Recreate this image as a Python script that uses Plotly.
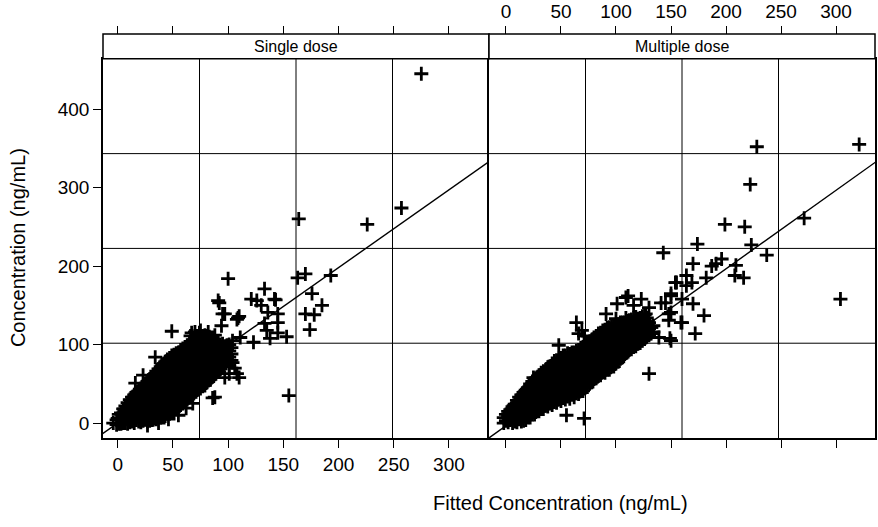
import plotly.graph_objects as go

# ---------------- data ----------------
panels = ["Single dose", "Multiple dose"]
x_ticks = [0, 50, 100, 150, 200, 250, 300]
y_ticks = [0, 100, 200, 300, 400]

# Single dose: dense core, listed per fitted-value column
single_core_x = [-1, 3, 7, 11, 15, 19, 23, 27, 31, 35, 39, 43, 47, 51, 55, 59, 63, 67, 71, 75,
                 79, 83, 87, 91, 95, 99, 103,
                 1, 5, 9, 13, 17, 21, 25, 29, 33, 37, 41, 45, 49, 53, 57, 61, 65, 69, 73, 77,
                 81, 85, 89, 93, 97, 101]
single_core_y = [
    [-2, 4], [-1, 6, 13], [0, 8, 16, 22], [1, 9, 17, 25, 30], [0, 6, 14, 22, 30, 36],
    [2, 10, 18, 26, 34, 41], [3, 8, 16, 24, 32, 40, 47], [2, 12, 20, 28, 36, 44, 53],
    [4, 9, 17, 25, 33, 41, 49, 58], [5, 13, 21, 29, 37, 45, 53, 61, 66],
    [7, 17, 25, 33, 41, 49, 57, 65, 72], [9, 14, 22, 30, 38, 46, 54, 62, 70, 78],
    [12, 19, 27, 35, 43, 51, 59, 67, 75, 83], [15, 23, 31, 39, 47, 55, 63, 71, 79, 87],
    [20, 27, 35, 43, 51, 59, 67, 75, 83, 90], [25, 32, 40, 48, 56, 64, 72, 80, 88, 95],
    [30, 37, 45, 53, 61, 69, 77, 85, 93, 99], [35, 42, 50, 58, 66, 74, 82, 90, 98, 103],
    [40, 47, 55, 63, 71, 79, 87, 95, 103, 107], [44, 52, 60, 68, 76, 84, 92, 100, 108],
    [48, 57, 65, 73, 81, 89, 97, 105, 112], [55, 62, 70, 78, 86, 94, 102, 110],
    [60, 68, 76, 84, 92, 100, 106], [66, 73, 81, 89, 97, 104], [72, 80, 88, 96, 101],
    [79, 86, 94, 99], [88, 96],
    [-1, 6, 11], [0, 4, 12, 18], [-1, 5, 13, 20, 26], [2, 10, 18, 26, 33],
    [4, 12, 20, 28, 36, 39], [1, 6, 14, 22, 30, 38, 44], [5, 12, 20, 28, 36, 44, 50],
    [3, 8, 16, 24, 32, 40, 48, 56], [6, 13, 21, 29, 37, 45, 53, 62],
    [8, 17, 25, 33, 41, 49, 57, 64, 69], [10, 20, 29, 37, 45, 53, 61, 69, 75],
    [12, 18, 26, 34, 42, 50, 58, 66, 74, 81], [14, 23, 31, 39, 47, 55, 63, 71, 79, 86],
    [18, 27, 35, 43, 51, 59, 67, 75, 83, 89], [23, 31, 39, 47, 55, 63, 71, 79, 87, 93],
    [28, 36, 44, 52, 60, 68, 76, 84, 92, 97], [33, 41, 49, 57, 65, 73, 81, 89, 97, 101],
    [38, 46, 54, 62, 70, 78, 86, 94, 102, 106], [43, 51, 59, 67, 75, 83, 91, 99, 106, 110],
    [47, 56, 64, 72, 80, 88, 96, 104, 111], [52, 61, 69, 77, 85, 93, 101, 109],
    [58, 66, 74, 82, 90, 98, 106], [63, 72, 80, 88, 96, 103], [69, 77, 85, 93, 100],
    [76, 84, 92, 98], [84, 92, 100],
]
single_extra_x = [275, 257, 164, 226, 100, 133, 121, 126, 130, 143, 92, 95, 110, 108, 94, 136,
                  145, 145, 133, 135, 145, 153, 138, 123, 111, 163, 170, 193, 176, 170, 178, 185,
                  174, 155, 97, 108, 86, 103, 101, 49, 70, 34, 23, 62, 27, 37, 46, 55, 0, -4, 88,
                  106, 91, 97, 109, 142, 16, 104, 75, 82, 66, 88, 90, 104, 101, 110, 68, 67, 74]
single_extra_y = [445, 274, 260, 253, 184, 171, 158, 156, 150, 157, 153, 139, 136, 132, 124, 141,
                  139, 128, 127, 118, 115, 110, 108, 103, 109, 185, 190, 188, 165, 139, 138, 150,
                  119, 35, 58, 63, 32, 80, 73, 117, 116, 84, 61, 19, -3, 0, 5, 10, 6, 0, 33,
                  70, 156, 139, 134, 158, 51, 105, 118, 116, 111, 112, 80, 77, 63, 58, 25, 115, 115]

# Multiple dose
multi_core_x = [-2, 2, 6, 10, 14, 18, 22, 26, 30, 34, 38, 42, 46, 50, 54, 58, 62, 66, 70, 74,
                78, 82, 86, 90, 94, 98, 102, 106, 110, 114, 118, 122, 126, 130, 134,
                0, 4, 8, 12, 16, 20, 24, 28, 32, 36, 40, 44, 48, 52, 56, 60, 64, 68, 72, 76,
                80, 84, 88, 92, 96, 100, 104, 108, 112, 116, 120, 124, 128, 132]
multi_core_y = [
    [0, 7], [1, 9, 15], [0, 5, 13, 21], [1, 9, 17, 25, 29], [2, 6, 14, 22, 30, 36],
    [4, 11, 19, 27, 35, 42], [7, 15, 23, 31, 39, 47, 50], [11, 19, 27, 35, 43, 51, 55],
    [15, 23, 31, 39, 47, 55, 61], [18, 26, 34, 42, 50, 58, 66], [21, 29, 37, 45, 53, 61, 69, 71],
    [23, 31, 39, 47, 55, 63, 71, 76], [26, 34, 42, 50, 58, 66, 74, 80],
    [28, 36, 44, 52, 60, 68, 76, 83], [30, 38, 46, 54, 62, 70, 78, 86],
    [31, 40, 48, 56, 64, 72, 80, 88], [33, 42, 50, 58, 66, 74, 82, 90],
    [37, 45, 53, 61, 69, 77, 85, 93], [41, 49, 57, 65, 73, 81, 89, 97],
    [46, 54, 62, 70, 78, 86, 94, 101], [52, 59, 67, 75, 83, 91, 99, 106],
    [57, 64, 72, 80, 88, 96, 104, 111], [61, 69, 77, 85, 93, 101, 109, 115],
    [64, 72, 80, 88, 96, 104, 112, 119], [68, 76, 84, 92, 100, 108, 116, 122],
    [72, 80, 88, 96, 104, 112, 120, 125], [78, 86, 94, 102, 110, 118, 126],
    [84, 92, 100, 108, 116, 124, 128], [90, 98, 106, 114, 122, 130],
    [94, 102, 110, 118, 126, 132], [98, 106, 114, 122, 130, 135], [102, 110, 118, 126, 134],
    [107, 115, 123, 131, 138], [112, 120, 128], [116, 124],
    [3, 11], [4, 12, 17], [2, 9, 17, 24], [5, 13, 21, 28, 33], [3, 10, 18, 26, 34, 39],
    [7, 15, 23, 31, 39, 45], [11, 19, 27, 35, 43, 51, 53], [15, 23, 31, 39, 47, 55, 58],
    [18, 27, 35, 43, 51, 59, 64], [22, 30, 38, 46, 54, 62, 68], [25, 33, 41, 49, 57, 65, 72],
    [27, 35, 43, 51, 59, 67, 75, 79], [30, 38, 46, 54, 62, 70, 78, 82],
    [32, 40, 48, 56, 64, 72, 80, 86], [34, 42, 50, 58, 66, 74, 82, 89],
    [36, 44, 52, 60, 68, 76, 84, 90], [38, 46, 54, 62, 70, 78, 86, 92],
    [41, 49, 57, 65, 73, 81, 89, 96], [45, 53, 61, 69, 77, 85, 93, 100],
    [50, 58, 66, 74, 82, 90, 98, 104], [56, 63, 71, 79, 87, 95, 103, 109],
    [60, 68, 76, 84, 92, 100, 108, 114], [65, 73, 81, 89, 97, 105, 113, 118],
    [68, 76, 84, 92, 100, 108, 116, 121], [72, 80, 88, 96, 104, 112, 120, 124],
    [76, 84, 92, 100, 108, 116, 124], [82, 90, 98, 106, 114, 122, 128],
    [88, 96, 104, 112, 120, 128], [93, 101, 109, 117, 125, 131], [97, 105, 113, 121, 129, 134],
    [101, 109, 117, 125, 133], [105, 113, 121, 129, 136], [110, 118, 126, 134], [114, 122],
]
multi_extra_x = [228, 321, 222, 199, 217, 271, 223, 237, 304, 174, 143, 170, 187, 191, 196, 209,
                 208, 216, 182, 164, 169, 155, 164, 150, 145, 160, 170, 180, 172, 160, 148, 150,
                 149, 130, 55, 71, 111, 123, 101, 116, 64, 66, 91, 100, 109, 127, 132, 139, 48,
                 25, 69, 71, 109, 130, 141, 150, 148, 159, 150, 154]
multi_extra_y = [352, 355, 304, 253, 250, 261, 227, 214, 158, 228, 217, 203, 200, 203, 209, 201,
                 188, 185, 185, 188, 179, 179, 175, 165, 153, 158, 152, 137, 114, 128, 131, 141,
                 108, 63, 10, 6, 162, 158, 152, 150, 128, 114, 139, 133, 134, 139, 122, 109, 99,
                 58, 118, 111, 160, 147, 153, 162, 139, 128, 105, 179]

# Fitted (regression) lines: slope, intercept
fit_single = (0.99, 0.0)
fit_multi = (1.0, -3.5)
fit_x_span = [-30, 350]


def flatten(cols_x, cols_y, extra_x, extra_y):
    xs, ys = [], []
    for cx, cy in zip(cols_x, cols_y):
        for v in cy:
            xs.append(cx)
            ys.append(v)
    return xs + extra_x, ys + extra_y


sx, sy = flatten(single_core_x, single_core_y, single_extra_x, single_extra_y)
mx, my = flatten(multi_core_x, multi_core_y, multi_extra_x, multi_extra_y)

# ---------------- figure ----------------
FONT = "Liberation Sans, Arial, Helvetica, sans-serif"
Y_TOP = 0.9115      # top of plotting panels (paper)
STRIP_TOP = 0.9713  # top of strip (paper)

marker = dict(symbol="cross-thin", size=10, color="black",
              line=dict(color="black", width=2.8))

fig = go.Figure()
fig.add_trace(go.Scatter(x=sx, y=sy, mode="markers", marker=marker,
                         xaxis="x", yaxis="y", showlegend=False, hoverinfo="skip"))
fig.add_trace(go.Scatter(x=mx, y=my, mode="markers", marker=marker,
                         xaxis="x2", yaxis="y2", showlegend=False, hoverinfo="skip"))
for (slope, icpt), xa, ya in [(fit_single, "x", "y"), (fit_multi, "x2", "y2")]:
    fig.add_trace(go.Scatter(x=fit_x_span, y=[slope * v + icpt for v in fit_x_span],
                             mode="lines", line=dict(color="black", width=1.4),
                             xaxis=xa, yaxis=ya, showlegend=False, hoverinfo="skip"))
# invisible anchors so the top axes are drawn
for xa, ya in [("x3", "y"), ("x4", "y2")]:
    fig.add_trace(go.Scatter(x=[0], y=[-1000], mode="markers", marker=dict(opacity=0),
                             xaxis=xa, yaxis=ya, showlegend=False, hoverinfo="skip"))

x_rng_single = [-13.3, 336.3]
x_rng_multi = [-15.4, 335.4]
y_rng = [-19, 464]

common_x = dict(tickvals=x_ticks, ticks="outside", ticklen=8, tickwidth=1.3, tickcolor="black",
                showgrid=False, zeroline=False, showline=True, linecolor="black", linewidth=1.5,
                mirror=True, tickfont=dict(family=FONT, size=19, color="black"))

fig.update_layout(
    width=878, height=527,
    margin=dict(l=103, r=1, t=20, b=89),
    paper_bgcolor="white", plot_bgcolor="white",
    xaxis=dict(domain=[0, 0.5], range=x_rng_single, anchor="y", **common_x),
    xaxis2=dict(domain=[0.5, 1], range=x_rng_multi, anchor="y2", showticklabels=False, **common_x),
    xaxis3=dict(domain=[0, 0.5], range=x_rng_single, overlaying="x", side="top", anchor="free",
                position=STRIP_TOP, tickvals=x_ticks, ticks="outside", ticklen=8, tickwidth=1.3,
                tickcolor="black", showticklabels=False, showgrid=False, zeroline=False,
                showline=False),
    xaxis4=dict(domain=[0.5, 1], range=x_rng_multi, overlaying="x2", side="top", anchor="free",
                position=STRIP_TOP, tickvals=x_ticks, ticks="outside", ticklen=8, tickwidth=1.3,
                tickcolor="black", showticklabels=True, showgrid=False, zeroline=False,
                showline=False, tickfont=dict(family=FONT, size=19, color="black")),
    yaxis=dict(domain=[0, Y_TOP], range=y_rng, anchor="x", tickvals=y_ticks, ticks="outside",
               ticklen=8, tickwidth=1.3, tickcolor="black", showgrid=False, zeroline=False,
               showline=True, linecolor="black", linewidth=1.5, mirror=False,
               tickfont=dict(family=FONT, size=19, color="black")),
    yaxis2=dict(domain=[0, Y_TOP], range=y_rng, anchor="x2", showticklabels=False,
                ticks="", showgrid=False, zeroline=False, showline=True, linecolor="black",
                linewidth=1.5, mirror=True),
)

# quarter reference lines inside each panel
shapes = []
for xd, yd in [("x domain", "y domain"), ("x2 domain", "y2 domain")]:
    for f in [0.25, 0.5, 0.75]:
        shapes.append(dict(type="line", xref=xd, yref=yd, x0=f, x1=f, y0=0, y1=1,
                           line=dict(color="black", width=1), layer="below"))
        shapes.append(dict(type="line", xref=xd, yref=yd, x0=0, x1=1, y0=f, y1=f,
                           line=dict(color="black", width=1), layer="below"))
# strips
for x0, x1 in [(0, 0.5), (0.5, 1)]:
    shapes.append(dict(type="rect", xref="paper", yref="paper", x0=x0, x1=x1,
                       y0=Y_TOP, y1=STRIP_TOP, fillcolor="white",
                       line=dict(color="black", width=1.5)))
fig.update_layout(shapes=shapes)

annotations = []
for name, xc in zip(panels, [0.25, 0.75]):
    annotations.append(dict(text=name, x=xc, y=(Y_TOP + STRIP_TOP) / 2, xref="paper",
                            yref="paper", showarrow=False, xanchor="center", yanchor="middle",
                            font=dict(family=FONT, size=16, color="black")))
annotations.append(dict(text="Fitted Concentration (ng/mL)", x=0.593, y=-0.1555, xref="paper",
                        yref="paper", showarrow=False, xanchor="center", yanchor="middle",
                        font=dict(family=FONT, size=20, color="black")))
annotations.append(dict(text="Concentration (ng/mL)", x=-0.1098, y=0.457, xref="paper",
                        yref="paper", showarrow=False, xanchor="center", yanchor="middle",
                        textangle=-90, font=dict(family=FONT, size=20, color="black")))
fig.update_layout(annotations=annotations)

fig.write_html("out.html")
